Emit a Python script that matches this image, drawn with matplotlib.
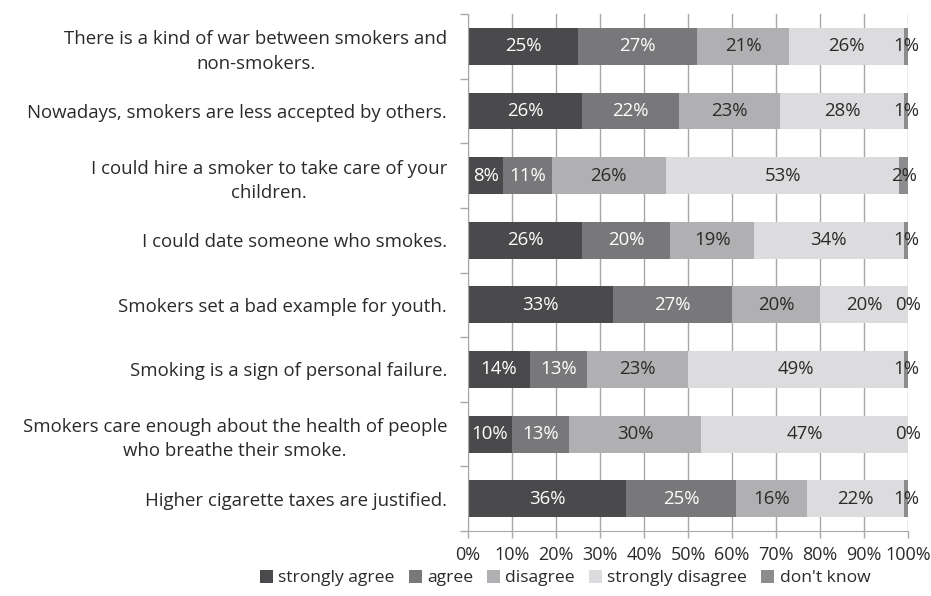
import matplotlib.pyplot as plt
import numpy as np

plt.rcParams["font.family"] = ["Open Sans", "DejaVu Sans"]

statements = [
    "There is a kind of war between smokers and\nnon-smokers.",
    "Nowadays, smokers are less accepted by others.",
    "I could hire a smoker to take care of your\nchildren.",
    "I could date someone who smokes.",
    "Smokers set a bad example for youth.",
    "Smoking is a sign of personal failure.",
    "Smokers care enough about the health of people\nwho breathe their smoke.",
    "Higher cigarette taxes are justified.",
]
answers = ["strongly agree", "agree", "disagree", "strongly disagree", "don't know"]

strongly_agree = [25, 26, 8, 26, 33, 14, 10, 36]
agree = [27, 22, 11, 20, 27, 13, 13, 25]
disagree = [21, 23, 26, 19, 20, 23, 30, 16]
strongly_disagree = [26, 28, 53, 34, 20, 49, 47, 22]
dont_know = [1, 1, 2, 1, 0, 1, 0, 1]

series = [strongly_agree, agree, disagree, strongly_disagree, dont_know]
colors = ["#4a4a4c", "#78787b", "#b0b0b2", "#dcdcde", "#8c8c8f"]
text_colors = ["white", "white", "#2a2a2a", "#2a2a2a", "#2a2a2a"]
fs = 13.4

fig = plt.figure(figsize=(9.31, 5.96), dpi=100)
ax = fig.add_axes([0.5027, 0.109, 0.4726, 0.8675])

y = np.arange(len(statements))
left = np.zeros(len(statements))
for vals, name, col, tcol in zip(series, answers, colors, text_colors):
    vals = np.array(vals, dtype=float)
    ax.barh(y, vals, left=left, height=0.57, color=col, label=name, zorder=2)
    for yi, (l, v) in enumerate(zip(left, vals)):
        ax.text(l + v / 2, yi, f"{int(v)}%", ha="center", va="center",
                color=tcol, fontsize=fs, zorder=3)
    left += vals

ax.set_xlim(0, 100)
ax.set_ylim(len(statements) - 0.5, -0.5)
ax.set_xticks(np.arange(0, 101, 10))
ax.set_xticklabels([f"{t}%" for t in range(0, 101, 10)], fontsize=fs - 0.4, color="#2a2a2a")
ax.xaxis.grid(True, color="#a8a8a8", lw=1.0, zorder=0)
ax.set_axisbelow(True)

ax.set_yticks(y)
ax.set_yticklabels(statements, fontsize=fs, color="#2a2a2a", multialignment="center",
                   linespacing=1.45)
ax.set_yticks(np.arange(-0.5, len(statements), 1), minor=True)
ax.tick_params(axis="y", which="major", length=0, pad=15)
ax.tick_params(axis="y", which="minor", length=6, color="#a8a8a8", width=1)
ax.tick_params(axis="x", length=5, color="#a8a8a8", width=1, pad=6)

for s in ["top", "right"]:
    ax.spines[s].set_visible(False)
for s in ["left", "bottom"]:
    ax.spines[s].set_color("#a8a8a8")

handles, labels = ax.get_legend_handles_labels()
fig.legend(handles, labels, loc="center", bbox_to_anchor=(0.607, 0.03), ncol=5,
           frameon=False, fontsize=12.6, handlelength=0.75, handleheight=0.75,
           handletextpad=0.3, columnspacing=0.8, labelcolor="#2a2a2a")

fig.savefig("out.png", dpi=100)
